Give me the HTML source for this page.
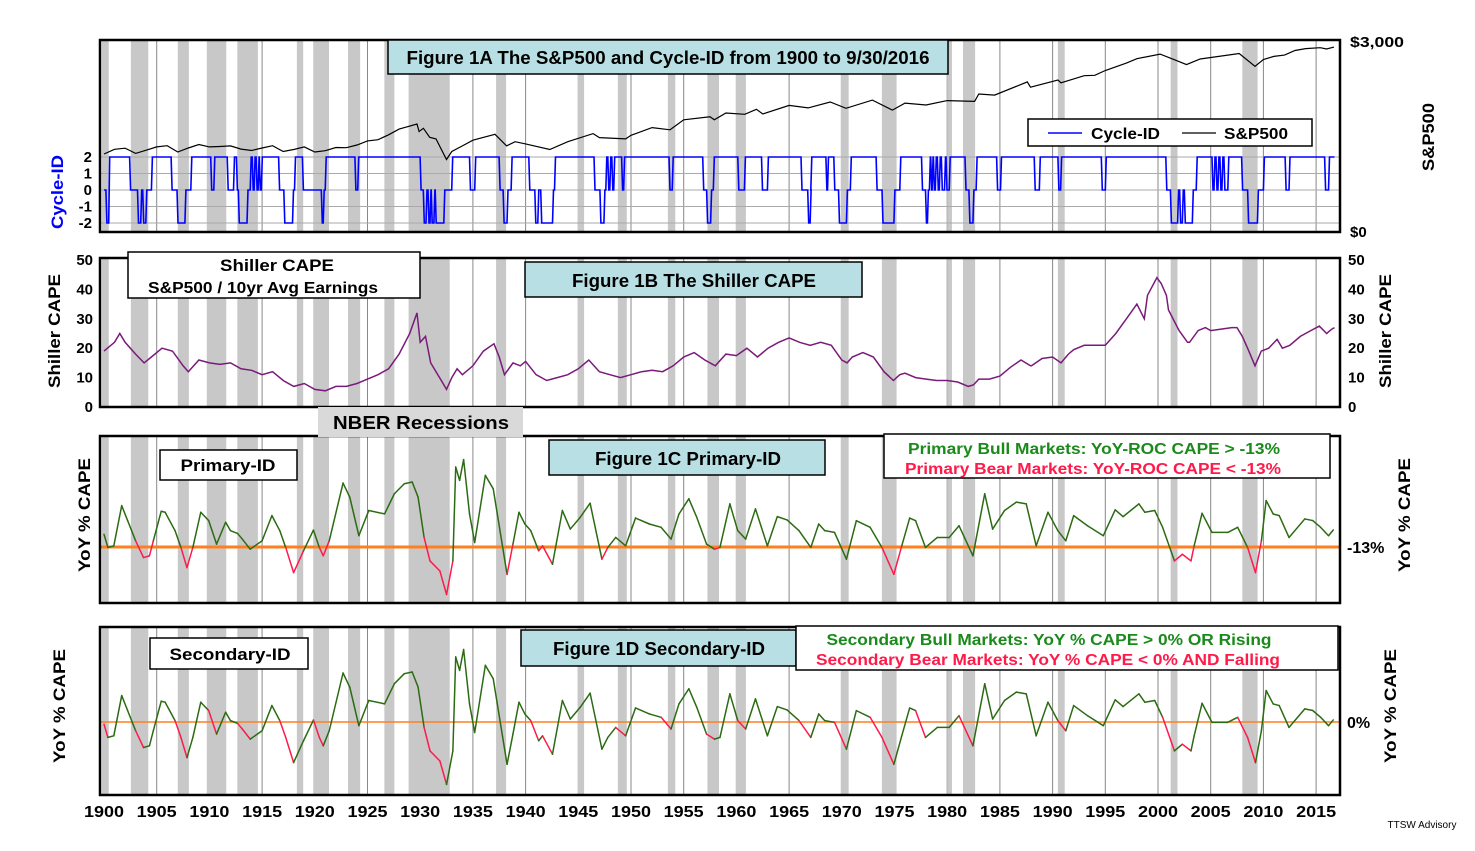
<!DOCTYPE html>
<html><head><meta charset="utf-8"><style>
body{margin:0;background:#fff;width:1475px;height:846px;overflow:hidden;font-family:"Liberation Sans",sans-serif}
svg text{font-family:"Liberation Sans",sans-serif}
</style></head><body>
<svg id="c" width="1475" height="846" xmlns="http://www.w3.org/2000/svg"></svg>
<script>
// ---- data ----
const recStart=[1899.8,1902.55,1907.0,1909.75,1912.65,1918.3,1919.85,1923.15,1926.6,1928.9,1937.2,1944.95,1948.75,1953.5,1957.25,1959.95,1969.9,1973.8,1980.0,1981.5,1990.5,2001.2,2008.0];
const recEnd=[1900.45,1904.2,1908.05,1911.6,1914.6,1918.9,1921.35,1924.3,1927.55,1932.8,1938.15,1945.55,1949.6,1954.2,1958.35,1960.9,1970.65,1975.2,1980.45,1982.65,1991.15,2001.85,2009.45];
const xTickYears=[1900,1905,1910,1915,1920,1925,1930,1935,1940,1945,1950,1955,1960,1965,1970,1975,1980,1985,1990,1995,2000,2005,2010,2015];
const spxYears=[1900,1901,1902,1903,1904,1905,1906,1907,1908,1909,1910,1911,1912,1913,1914,1915,1916,1917,1918,1919,1920,1921,1922,1923,1924,1925,1926,1927,1928,1929.7,1929.9,1930.3,1930.9,1931.5,1932.5,1933,1934,1935,1937.1,1938.2,1939,1940,1942.3,1944,1946.4,1947,1949.5,1950,1952,1953.7,1955,1957.5,1957.9,1959,1960.8,1961.9,1962.5,1965,1966.8,1968.9,1970.4,1972.9,1974.8,1976,1978,1980,1982.6,1983,1984.5,1987.6,1987.9,1990.5,1990.8,1993,1994,1995,1997,1998,2000.2,2001.7,2002.7,2004,2007.7,2009.2,2010,2011,2012,2013,2014,2015.4,2016,2016.7];
const spxValues=[6.1,7.9,8.4,6.3,7.5,9.0,9.6,6.8,8.5,10.3,9.0,9.2,9.5,8.0,7.4,8.5,9.6,7.0,7.8,9.0,6.8,7.3,8.7,8.6,10,12.5,13.4,17.5,24,31.7,21,25,15.3,14,4.5,7,9.5,13,18,9.5,12,10.6,7.8,12,18.7,15,14,17,26,23,40,47,40,58,54,71,55,88,77,106,75,118,68,100,90,115,110,165,155,320,240,355,305,450,460,600,900,1150,1480,1050,830,1130,1530,750,1100,1300,1400,1800,2000,2100,1950,2170];
const cycYears=[1900,1900.18,1900.45,1902.43,1903.18,1903.48,1903.67,1903.97,1904.5,1906.37,1906.93,1907.68,1908.24,1910.12,1910.42,1911.69,1912.29,1912.56,1912.74,1913.57,1913.87,1914.06,1914.24,1914.43,1914.62,1914.73,1914.92,1916.57,1917.06,1917.88,1918.07,1918.82,1920.62,1920.8,1920.99,1923.8,1924.07,1929.99,1930.29,1930.55,1930.74,1930.93,1931.04,1931.3,1931.42,1932.24,1932.99,1934.68,1935.17,1937.49,1937.87,1938.24,1938.62,1940.3,1940.87,1941.16,1941.43,1942.55,1942.74,1946.49,1947.05,1947.43,1947.61,1947.8,1947.99,1948.18,1948.36,1949.11,1949.3,1953.61,1953.91,1956.8,1957.17,1957.55,1957.81,1960.13,1960.76,1962.38,1962.94,1966.13,1966.76,1966.99,1967.06,1968.49,1968.64,1969.24,1969.69,1970.44,1970.81,1973.25,1973.81,1974.94,1975.5,1977.56,1977.94,1978.12,1978.31,1978.43,1978.57,1978.69,1978.87,1979.06,1979.25,1979.44,1979.74,1979.89,1980.19,1981.69,1982.06,1982.44,1982.74,1984.69,1985.06,1988.25,1988.74,1990.5,1990.76,1994.62,1995.0,2000.74,2001.18,2001.86,2002.05,2002.31,2002.5,2003.25,2003.62,2005.12,2005.31,2005.5,2005.68,2005.87,2006.06,2006.25,2006.62,2007.93,2008.5,2009.43,2010.0,2012.06,2012.43,2015.81,2016.18];
const cycValues=[0,-2,2,0,-2,0,-2,0,2,0,-2,0,2,0,2,0,2,0,-2,0,2,0,2,0,2,0,2,0,-2,0,2,0,-2,0,2,0,2,0,-2,0,-2,0,-2,0,-2,0,2,0,2,0,-2,0,2,0,-2,0,-2,0,2,0,-2,0,2,0,2,0,2,0,2,0,2,0,-2,0,2,0,2,0,2,0,-2,0,2,0,2,0,-2,0,2,0,-2,0,2,0,-2,0,2,0,2,0,2,0,2,0,2,0,2,0,-2,0,2,0,2,0,2,0,2,0,2,0,-2,0,-2,0,-2,0,2,0,2,0,2,0,2,0,2,0,-2,0,2,0,2,0,2];
const capeYears=[1900,1901,1901.5,1902,1903,1903.8,1904.5,1905.5,1906.5,1907.5,1908,1909,1910,1911,1912,1913,1914,1915,1916,1917,1918,1919,1920,1921,1922,1923,1924,1925,1926,1927,1928,1929,1929.7,1930,1930.5,1931,1932,1932.5,1933,1933.5,1934,1935,1936,1937,1937.5,1938,1938.8,1939.5,1940,1941,1942,1943,1944,1945,1946,1947,1948,1949,1950,1951,1952,1953,1954,1955,1956,1957,1958,1959,1960,1961,1962,1963,1964,1965,1966,1967,1968,1969,1970,1970.5,1971,1972,1973,1974,1974.9,1975.5,1976,1977,1978,1979,1980,1981,1982,1982.5,1983,1984,1985,1986,1987,1987.9,1988,1989,1990,1990.8,1991.5,1992,1993,1994,1995,1996,1997,1998,1998.7,1999,1999.9,2000.3,2000.8,2001,2002,2002.8,2003,2003.8,2004.5,2005,2006,2007,2007.5,2008,2008.5,2009.2,2009.8,2010.5,2011.3,2011.8,2012.5,2013.5,2014.5,2015.3,2016,2016.5,2016.75];
const capeValues=[19,22,25,22,18,15,17,20,19,14,12,16,15,14.5,15,13,12.5,11,12,9,7,8,6,5.5,7,7,8,9.5,11,13,18,25,32,22,24,15,9,6,10,13,11,14,19,21.5,17,11,15,14,15.5,11,9,10,11,13,16,12,11,10,11,12,12.5,12,14,17,18.5,16,14,18,17.5,20,17,20,22,23.5,22,21,22,21,16,15,17,18.5,17,12,9,11,11.5,10,9.5,9,9,8.5,7,7.5,9.5,9.5,10.5,13.5,16,14,14,16.5,17,15,18,19.5,21,21,21,25,30,35,30,38,44,42,38,33,26,22,22,26,27,26,26.5,27,27,24,20,14,19,20,23,20,21,24,26,27.5,25,26.5,27];
const capeTicks=[0,10,20,30,40,50];
const yoyYears=[1900,1900.37,1900.93,1901.68,1902.24,1903.0,1903.75,1904.31,1904.68,1905.43,1905.8,1906.74,1907.3,1907.87,1908.43,1909.18,1909.93,1910.68,1911.54,1912.0,1912.67,1913.12,1913.87,1915.0,1915.93,1916.68,1917.24,1917.99,1918.93,1919.87,1920.43,1920.8,1921.37,1922.68,1923.32,1924.18,1925.12,1926.62,1927.55,1928.49,1929.24,1929.8,1930.37,1930.93,1931.87,1932.5,1933.1,1933.37,1933.74,1934.12,1934.68,1935.17,1936.18,1936.93,1938.24,1938.8,1939.37,1939.93,1940.49,1941.24,1941.61,1942.55,1943.49,1944.24,1945.18,1946.12,1947.24,1947.8,1948.55,1949.49,1950.43,1951.74,1952.86,1953.8,1954.55,1955.49,1956.24,1957.17,1957.92,1958.44,1959.38,1960.13,1960.88,1961.81,1962.94,1963.88,1964.81,1965.94,1967.06,1967.81,1968.38,1969.31,1970.44,1971.38,1972.69,1973.81,1974.94,1975.69,1976.44,1977.0,1977.94,1979.06,1980.19,1981.12,1982.44,1983.56,1984.31,1985.44,1986.56,1987.5,1988.44,1989.56,1990.5,1991.25,1992.0,1993.31,1994.81,1995.94,1996.69,1998.19,1998.75,1999.69,2000.44,2001.56,2002.31,2003.13,2003.43,2004.18,2005.12,2006.62,2007.56,2008.5,2009.25,2009.81,2010.26,2010.93,2011.5,2012.43,2013.93,2014.68,2015.43,2016.18,2016.63];
const yoyValues=[-2,-13.4,-12,23,10,-7.6,-22.2,-20.7,-7.6,18.1,17.2,1.2,-13.4,-31,-13.4,17.2,10,-10.5,8.5,1.2,-1.2,-6.1,-14.9,-7.6,14.3,1.2,-13.4,-35.3,-16.3,1.7,-13.4,-20.7,-7.6,42.6,30.3,-3.2,18.7,15.8,33.3,42,43.5,30.3,-4.7,-25.1,-33.9,-54.3,-25.1,56.6,44.9,63,15.7,-9.1,49.3,37.6,-36.8,-10.5,17.2,7,1.2,-16.3,-12,-28,18.7,2.6,12.8,25.1,-23.6,-13.4,-4.7,-12,12.2,7,4.1,-6.1,15.7,28.9,12.8,-10.5,-14.9,-13.4,24.5,1.2,-6.1,20.1,-12,13.4,10.5,1.2,-13.4,7,1.2,-0.3,-23.6,9.9,4.1,-13.4,-36.8,-12,12.2,9.9,-13.4,-4.7,-4.7,5.5,-20.7,33.3,2.6,18.7,26,24.5,-12,17.2,1.2,-7.6,14.3,5.5,-3.2,19.3,13.4,24.5,17.2,18.7,4.1,-25.1,-19.3,-25.1,-12,16.3,-0.3,-0.3,4.1,-13.4,-35.3,-7.6,27.4,15.7,14.3,-4.7,11.4,10,4.1,-3.2,1.8];
const primaryThreshold=-13;
const secondaryThreshold=0;

// ---- axes ----
const X=y=>104+(y-1900)*10.54;
const X0=100,X1=1340;
const ySpx=v=>186.9-41.9*Math.log10(v);
const yCyc=v=>190-v*16.5;
const yCape=v=>407-v*2.94;
const yC=v=>547-(v-primaryThreshold)*1.15;
const yD=v=>722-(v-secondaryThreshold)*1.15;

const svg=document.getElementById('c');
const NS='http://www.w3.org/2000/svg';
function el(tag,attrs,parent){const e=document.createElementNS(NS,tag);for(const k in attrs)e.setAttribute(k,attrs[k]);(parent||svg).appendChild(e);return e;}
function txt(s,x,y,attrs,parent){const t=el('text',Object.assign({x:x,y:y,'font-size':15,'font-weight':'bold',fill:'#000'},attrs||{}),parent);t.textContent=s;return t;}

const panels=[{t:40,b:232,n:'panel-1a'},{t:258,b:407,n:'panel-1b'},{t:436,b:603,n:'panel-1c'},{t:627,b:795,n:'panel-1d'}];
panels.forEach(p=>{
  const g=el('g',{});
  
  
  el('rect',{x:X0,y:p.t,width:X1-X0,height:p.b-p.t,fill:'#fff'},g);
  xTickYears.forEach(yr=>{if(yr>1900){const l=el('line',{x1:X(yr),x2:X(yr),y1:p.t,y2:p.b,stroke:'#888','stroke-width':1},g);
    }});
  recStart.forEach((s,i)=>{
    const a=Math.max(X(s),X0),b=X(recEnd[i]);
    const r=el('rect',{x:a,y:p.t,width:b-a,height:p.b-p.t,fill:'#c8c8c8'},g);
    
    
  });
  p.g=g;
});
el('rect',{x:X(1928.9),y:405,width:X(1932.8)-X(1928.9),height:32,fill:'#c8c8c8'});

[2,1,0,-1,-2].forEach(v=>{
  const l=el('line',{x1:X0,x2:X1,y1:yCyc(v),y2:yCyc(v),stroke:'#aaa','stroke-width':1});
  
  const t=txt(String(v),92,yCyc(v)+5,{'text-anchor':'end','font-size':15});
  
});
const o1=el('line',{x1:X0,x2:X1,y1:yC(primaryThreshold),y2:yC(primaryThreshold),stroke:'#ff7f1e','stroke-width':3});

const o2=el('line',{x1:X0,x2:X1,y1:yD(secondaryThreshold),y2:yD(secondaryThreshold),stroke:'#ff7f1e','stroke-width':1.5});


let d=spxYears.map((y,i)=>(i?'L':'M')+X(y).toFixed(1)+','+ySpx(spxValues[i]).toFixed(1)).join('');
const spx=el('path',{d:d,fill:'none',stroke:'#000','stroke-width':1.2});

let pts=[[X(cycYears[0]),yCyc(cycValues[0])]];
for(let i=1;i<cycYears.length;i++){pts.push([X(cycYears[i]),yCyc(cycValues[i-1])]);pts.push([X(cycYears[i])+1,yCyc(cycValues[i])]);}
pts.push([X(2016.75),yCyc(cycValues[cycValues.length-1])]);
const cyc=el('path',{d:pts.map((p,i)=>(i?'L':'M')+p[0].toFixed(1)+','+p[1].toFixed(1)).join(''),fill:'none',stroke:'#0000ff','stroke-width':1.6});

const cape=el('path',{d:capeYears.map((y,i)=>(i?'L':'M')+X(y).toFixed(1)+','+yCape(capeValues[i]).toFixed(1)).join(''),fill:'none',stroke:'#7a1a7a','stroke-width':1.5});

function yoyLine(ymap,isRed,name){
  for(let i=1;i<yoyYears.length;i++){
    const red=isRed(yoyValues[i-1],yoyValues[i]);
    const s=el('line',{x1:X(yoyYears[i-1]),y1:ymap(yoyValues[i-1]),x2:X(yoyYears[i]),y2:ymap(yoyValues[i]),stroke:red?'#ff1a4a':'#2b6b12','stroke-width':1.5,'stroke-linecap':'round'});
    
    
  }
}
yoyLine(yC,(a,b)=>(a+b)/2<primaryThreshold,'primary-yoy-segment');
yoyLine(yD,(a,b)=>(a+b)/2<secondaryThreshold&&b<a,'secondary-yoy-segment');

panels.forEach(p=>{el('rect',{x:X0,y:p.t,width:X1-X0,height:p.b-p.t,fill:'none',stroke:'#000','stroke-width':2.5});});

capeTicks.forEach(v=>{
  const a=txt(String(v),93,yCape(v)+5,{'text-anchor':'end','font-size':15});
  
  const b=txt(String(v),1348,yCape(v)+5,{'font-size':15});
  
});
xTickYears.forEach(yr=>{const t=txt(String(yr),X(yr),817,{'text-anchor':'middle','font-size':16,textLength:40,lengthAdjust:'spacingAndGlyphs'});
  });

function box(x,y,w,h,fill,name){const r=el('rect',{x:x,y:y,width:w,height:h,fill:fill,stroke:'#000','stroke-width':1.5});return r;}
function rot(s,x,y,len,attrs,name){const t=txt(s,x,y,Object.assign({'text-anchor':'middle',transform:'rotate(-90 '+x+' '+y+')','font-size':17,textLength:len,lengthAdjust:'spacingAndGlyphs'},attrs||{}));return t;}
function lbl(s,x,y,len,attrs,name){const a=Object.assign({},attrs);if(len){a.textLength=len;a.lengthAdjust='spacingAndGlyphs';}const t=txt(s,x,y,a);return t;}
const M={'text-anchor':'middle'};
// 1A
box(388,40,560,34,'#b8e0e4','title-1a-box');
lbl('Figure 1A The S&P500 and Cycle-ID from 1900 to 9/30/2016',668,64,523,Object.assign({'font-size':18},M),'title-1a');
box(1028,119,284,27,'#fff','legend-1a');
el('line',{x1:1048,x2:1082,y1:133,y2:133,stroke:'#0000ff','stroke-width':1.6});
lbl('Cycle-ID',1091,139,69,{'font-size':16},'legend-cycle-id');
el('line',{x1:1182,x2:1216,y1:133,y2:133,stroke:'#000','stroke-width':1.2});
lbl('S&P500',1224,139,64,{'font-size':16},'legend-sp500');
lbl('$3,000',1350,47,54,{'font-size':15},'spx-tick-top');
lbl('$0',1350,237,0,{'font-size':15},'spx-tick-bottom');
rot('S&P500',1434,137,68,{},'spx-axis-title');
rot('Cycle-ID',63,192,74,{fill:'#0000ff'},'cycle-axis-title');
// 1B
box(128,252,292,46,'#fff','cape-label-box');
lbl('Shiller CAPE',277,271,114,Object.assign({'font-size':17},M),'cape-label-1');
lbl('S&P500 / 10yr Avg Earnings',263,293,230,Object.assign({'font-size':16},M),'cape-label-2');
box(525,262,337,35,'#b8e0e4','title-1b-box');
lbl('Figure 1B The Shiller CAPE',694,287,244,Object.assign({'font-size':18},M),'title-1b');
rot('Shiller CAPE',60,331,114,{},'cape-axis-left');
rot('Shiller CAPE',1391,331,114,{},'cape-axis-right');
const nb=el('rect',{x:318,y:407,width:205,height:30,fill:'#d9d9d9'});
lbl('NBER Recessions',421,429,176,Object.assign({'font-size':18},M),'nber-label');
// 1C
box(160,450,137,30,'#fff','primary-id-box');
lbl('Primary-ID',228,471,95,Object.assign({'font-size':17},M),'primary-id-label');
box(549,440,276,35,'#b8e0e4','title-1c-box');
lbl('Figure 1C Primary-ID',688,465,186,Object.assign({'font-size':18},M),'title-1c');
box(884,434,446,44,'#fff','legend-1c');
lbl('Primary Bull Markets: YoY-ROC CAPE > -13%',1094,454,372,Object.assign({'font-size':16,fill:'#1a8a1a'},M),'legend-primary-bull');
lbl('Primary Bear Markets: YoY-ROC CAPE < -13%',1093,474,376,Object.assign({'font-size':16,fill:'#ff1a4a'},M),'legend-primary-bear');
lbl('-13%',1347,553,0,{'font-size':16},'primary-threshold-label');
rot('YoY % CAPE',90,515,114,{},'yoy-axis-left-1c');
rot('YoY % CAPE',1410,515,114,{},'yoy-axis-right-1c');
// 1D
box(150,638,158,31,'#fff','secondary-id-box');
lbl('Secondary-ID',230,660,121,Object.assign({'font-size':17},M),'secondary-id-label');
box(521,630,275,36,'#b8e0e4','title-1d-box');
lbl('Figure 1D Secondary-ID',659,655,212,Object.assign({'font-size':18},M),'title-1d');
box(796,626,542,44,'#fff','legend-1d');
lbl('Secondary Bull Markets: YoY % CAPE > 0% OR Rising',1049,645,445,Object.assign({'font-size':16,fill:'#1a8a1a'},M),'legend-secondary-bull');
lbl('Secondary Bear Markets: YoY % CAPE < 0% AND Falling',1048,665,464,Object.assign({'font-size':16,fill:'#ff1a4a'},M),'legend-secondary-bear');
lbl('0%',1347,728,0,{'font-size':16},'secondary-threshold-label');
rot('YoY % CAPE',65,706,114,{},'yoy-axis-left-1d');
rot('YoY % CAPE',1396,706,114,{},'yoy-axis-right-1d');
lbl('TTSW Advisory',1422,828,0,{'text-anchor':'middle','font-size':10,'font-weight':'normal'},'credit');
</script>
</body></html>
